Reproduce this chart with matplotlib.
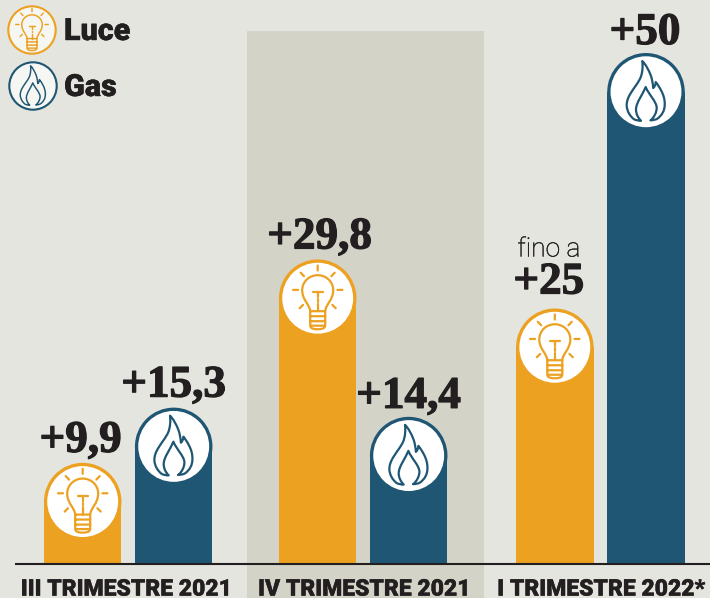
import matplotlib
matplotlib.use("Agg")
import matplotlib.pyplot as plt
import matplotlib.patheffects as pe
from matplotlib.patches import Circle, PathPatch, Rectangle
from matplotlib.path import Path
from matplotlib.transforms import Affine2D

periods = ["III TRIMESTRE 2021", "IV TRIMESTRE 2021", "I TRIMESTRE 2022*"]
luce = [9.9, 29.8, 25]
gas = [15.3, 14.4, 50]
luce_labels = ["+9,9", "+29,8", "+25"]
gas_labels = ["+15,3", "+14,4", "+50"]

# layout, in pixels
W, H = 710, 598
BASE = 564
PX = 10.22  # pixels per unit of value
BAR_W = 77.5
R = BAR_W / 2
luce_x = [82.7, 317.7, 554.8]
gas_x = [173.7, 408.7, 646]
period_x = [126, 364, 601]
luce_off = [(-2, 11), (2, 11), (-6, 15)]
gas_off = [(0, 11), (0, 9), (-1, 9)]

BG = "#E4E5DF"
PANEL = "#D3D3C7"
ORANGE = "#EDA121"
BLUE = "#1F5674"
INK = "#231F20"

fig = plt.figure(figsize=(W / 100, H / 100), dpi=100, facecolor=BG)
ax = fig.add_axes([0, (H - BASE) / H, 1, BASE / H], facecolor="none")
ax.set_xlim(0, W)
ax.set_ylim(0, BASE / PX)
for s in ax.spines.values():
    s.set_visible(False)
ax.set_yticks([])
ax.set_xticks(period_x, periods, fontfamily="Roboto", fontweight="black", fontsize=16.5, color=INK)
ax.tick_params(axis="x", length=0, pad=9.8)
for t in ax.get_xticklabels():
    t.set_path_effects([pe.withStroke(linewidth=0.3, foreground=INK)])

ax.add_patch(Rectangle((247, -(H - BASE) / PX), 237, (H - 31) / PX, color=PANEL, lw=0, clip_on=False, zorder=0))
ax.plot([15, W], [0, 0], color=INK, lw=1.5, clip_on=False, solid_capstyle="butt", zorder=4)

M, L, C = Path.MOVETO, Path.LINETO, Path.CURVE4

bulb_body = Path(
    [(-7.5, 13), (-8, 6), (-15.5, 2), (-15.5, -8), (-15.5, -16.5), (-8.5, -23), (0, -23),
     (8.5, -23), (15.5, -16.5), (15.5, -8), (15.5, 2), (8, 6), (7.5, 13)],
    [M, C, C, C, C, C, C, C, C, C, C, C, C],
)
bulb_base = Path(
    [(-7.5, 13), (-7.5, 27), (-7.5, 31), (-3, 31), (0, 31), (3, 31), (7.5, 31), (7.5, 27), (7.5, 13), (-7.5, 13),
     (-7.5, 18), (7.5, 18), (-7.5, 23), (7.5, 23), (-6.5, 27.5), (6.5, 27.5)],
    [M, L, C, C, C, C, C, C, L, L, M, L, M, L, M, L],
)
filament = Path(
    [(-5, -6), (5, -6), (0, -6), (0, -1), (0, 1), (0, 3.5), (0, 5.5), (0, 13)],
    [M, L, M, L, M, L, M, L],
)
rays = Path(
    [(0, -32.7), (0, -27.7), (-17, -25.5), (-13.7, -22), (17, -25.5), (13.7, -22),
     (-24.7, -8.3), (-19.7, -8.3), (24.7, -8.3), (19.7, -8.3), (-18, 10), (-14.7, 6.7), (18, 10), (14.7, 6.7)],
    [M, L] * 7,
)
# single closed outline: outer flame, then inner flame back to the start
flame = Path(
    [(4.7, 28.5), (7, 28.5), (9.5, 28), (11.3, 27),
     (16, 23.5), (18.7, 19), (18.7, 13),
     (19, 8), (17.5, 3), (15, -1.5),
     (13.5, -4.5), (11.5, -7.5), (9.7, -9.7),
     (9.7, -7.5), (9, -5.5), (7.2, -3.7),
     (6.8, -9), (6, -13), (4.7, -16.5),
     (2.5, -22), (0, -27), (-3.7, -30.7),
     (-3, -25), (-3.5, -19), (-5.5, -14),
     (-8, -8.5), (-12, -4), (-15, 1),
     (-18, 5.5), (-19.5, 10), (-19.3, 14),
     (-19, 19.5), (-16, 24.5), (-12, 27.5),
     (-10, 28.5), (-7.5, 29), (-5, 29),
     (-8, 26), (-10, 22), (-10, 17.7),
     (-10, 11), (-3.5, 3), (-0.3, -4.7),
     (2.5, 2.5), (10.7, 10), (10.7, 16),
     (10.7, 21), (8, 25.5), (4.7, 28.5)],
    [M] + [C] * 48,
)


def icon_tf(px, py, scale=1.0):
    # local icon units are pixels, y going down
    return Affine2D().scale(scale, -scale).translate(px, py)


def draw_glyph(paths, color, tf, lw=1.6):
    for p in paths:
        ax.add_patch(PathPatch(p, fc="none", ec=color, lw=lw, transform=tf,
                               clip_on=False, capstyle="round", joinstyle="round", zorder=6))


def draw_bar(x, value, color, paths):
    ax.bar(x, value - R / PX, width=BAR_W, color=color, lw=0, zorder=2)
    dx, dy = ax.transData.transform((x, value))
    tf = icon_tf(dx, dy - R)
    ax.add_patch(Circle((0, 0), R, fc=color, ec="none", transform=tf, clip_on=False, zorder=3))
    ax.add_patch(Circle((0, 0), R - 3.3, fc="white", ec="none", transform=tf, clip_on=False, zorder=5))
    draw_glyph(paths, color, tf)


def value_label(x, value, text, off):
    ax.annotate(text, (x, value), xytext=off, textcoords="offset pixels", ha="center", va="baseline",
                fontfamily="Liberation Serif", fontweight="bold", fontsize=32.5, color=INK, zorder=7,
                path_effects=[pe.withStroke(linewidth=0.9, foreground=INK)])


bulb_paths = [bulb_body, bulb_base, filament, rays]
flame_paths = [flame]

for i in range(3):
    draw_bar(luce_x[i], luce[i], ORANGE, bulb_paths)
    draw_bar(gas_x[i], gas[i], BLUE, flame_paths)
    value_label(luce_x[i], luce[i], luce_labels[i], luce_off[i])
    value_label(gas_x[i], gas[i], gas_labels[i], gas_off[i])

ax.annotate("fino a", (luce_x[2], luce[2]), xytext=(-6, 52), textcoords="offset pixels", ha="center",
            va="baseline", fontfamily="Roboto", fontweight="light", fontsize=19, color=INK, zorder=7,
            path_effects=[pe.withStroke(linewidth=0.25, foreground=INK)])

# legend, top left
for name, color, paths, cx, cy in [("Luce", ORANGE, bulb_paths, 32, 30), ("Gas", BLUE, flame_paths, 33, 86)]:
    tf = icon_tf(cx, H - cy)
    ax.add_patch(Circle((0, 0), 23.7, fc="#F6F6F2", ec=color, lw=1.5, transform=tf, clip_on=False, zorder=5))
    draw_glyph(paths, color, icon_tf(cx, H - cy, 0.66), lw=1.05)
    fig.text(64 / W, 1 - (cy + 10) / H, name, fontfamily="Roboto", fontweight="black", fontsize=22, color=INK,
             va="baseline", path_effects=[pe.withStroke(linewidth=0.3, foreground=INK)])

fig.savefig("out.png", dpi=100, facecolor=BG)
